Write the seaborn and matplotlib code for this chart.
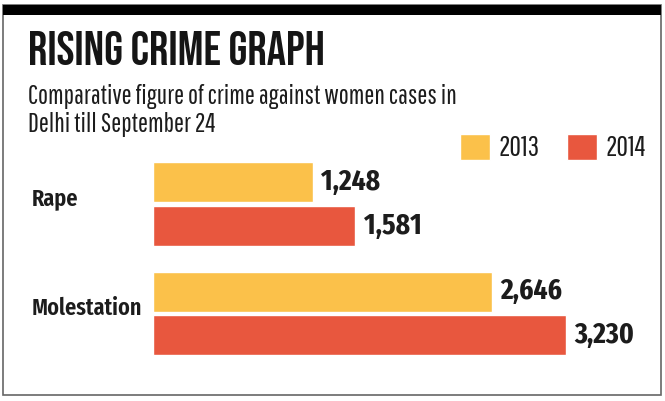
import pandas as pd
import matplotlib
matplotlib.use("Agg")
import matplotlib.pyplot as plt
import matplotlib.patches as mpatches
import seaborn as sns

# data
crimes = ["Rape", "Molestation"]
years = ["2013", "2014"]
cases_2013 = [1248, 2646]
cases_2014 = [1581, 3230]

yellow = "#FBC14A"
red = "#E8573E"
ink = "#1c1c1c"
W, H = 665, 401

df = pd.DataFrame({
    "crime": crimes * 2,
    "year": [years[0]] * 2 + [years[1]] * 2,
    "cases": cases_2013 + cases_2014,
})

sns.set_style("white")
title_font = ["Bebas Neue", "Liberation Sans Narrow", "DejaVu Sans"]
light_font = ["Pathway Gothic One", "Liberation Sans Narrow", "DejaVu Sans"]
label_font = ["Fira Sans Extra Condensed", "Liberation Sans Narrow", "DejaVu Sans"]
plt.rcParams["font.family"] = light_font

fig = plt.figure(figsize=(W / 100, H / 100), dpi=100)
renderer = fig.canvas.get_renderer()


def fx(px):
    return px / W


def fy(py):
    return 1 - py / H


def fit(t, width_px):
    # scale the font so the text spans about as wide as in the reference
    w = t.get_window_extent(renderer).width
    t.set_fontsize(t.get_fontsize() * width_px / w)
    return t


def fitted_size(txt, width_px, **kw):
    probe = fig.text(0, 0, txt, fontsize=15, **kw)
    fit(probe, width_px)
    size = probe.get_fontsize()
    probe.remove()
    return size


# frame and black top band
fig.patches.append(mpatches.Rectangle((fx(3), fy(395)), fx(661) - fx(3), fy(5) - fy(395),
                                      transform=fig.transFigure, fill=False,
                                      edgecolor="#666666", lw=1.2))
fig.patches.append(mpatches.Rectangle((fx(3), fy(15)), fx(661) - fx(3), fy(5) - fy(15),
                                      transform=fig.transFigure, facecolor="black",
                                      edgecolor="black", lw=0))

t = fig.text(fx(28), fy(65), "RISING CRIME GRAPH", fontsize=30,
             family=title_font, color="#151515", va="baseline", ha="left")
fit(t, 297)
t = fig.text(fx(28), fy(104), "Comparative figure of crime against women cases in",
             fontsize=17, color=ink, va="baseline", ha="left")
fit(t, 429)
sub_size = t.get_fontsize()
fig.text(fx(28), fy(132), "Delhi till September 24", fontsize=sub_size,
         color=ink, va="baseline", ha="left")

ax = fig.add_axes([fx(153), fy(370), fx(660) - fx(153), fy(150) - fy(370)])
sns.barplot(data=df, y="crime", x="cases", hue="year", orient="h",
            palette=[yellow, red], width=0.8, gap=0.09, saturation=1,
            order=crimes, hue_order=years, ax=ax)

ax.set_xlim(0, (660 - 153) / 0.128)
ax.set_ylim(1.516, -0.493)
ax.set_xlabel("")
ax.set_ylabel("")
ax.set_xticks([])
ax.set_yticks([])
for s in ax.spines.values():
    s.set_visible(False)

# value labels sized so "3,230" is about 60 px wide
val_size = fitted_size("3,230", 60, fontweight="bold", family=label_font)
for cont in ax.containers:
    ax.bar_label(cont, labels=[f"{v:,.0f}" for v in cont.datavalues], padding=6,
                 fontsize=val_size, fontweight="bold", family=label_font, color=ink)

# category labels, left aligned like the original
cat_size = fitted_size("Molestation", 111, fontweight="semibold", family=label_font)
fig_data = matplotlib.transforms.blended_transform_factory(fig.transFigure, ax.transData)
for i, c in enumerate(crimes):
    ax.text(fx(32), i - 0.05, c, transform=fig_data, fontsize=cat_size,
            fontweight="semibold", family=label_font, color=ink, ha="left", va="center")

# legend
leg_size = fitted_size("2013", 41, family=light_font)
handles, labels = ax.get_legend_handles_labels()
ax.legend(handles, labels, loc="center left", bbox_to_anchor=(fx(460), fy(147.5)),
          bbox_transform=fig.transFigure, ncol=2, frameon=False,
          prop={"size": leg_size, "family": light_font},
          handlelength=1.05, handleheight=1.05, handletextpad=0.3, columnspacing=1.0,
          borderpad=0, borderaxespad=0, labelcolor=ink)

fig.savefig("out.png", dpi=100)
